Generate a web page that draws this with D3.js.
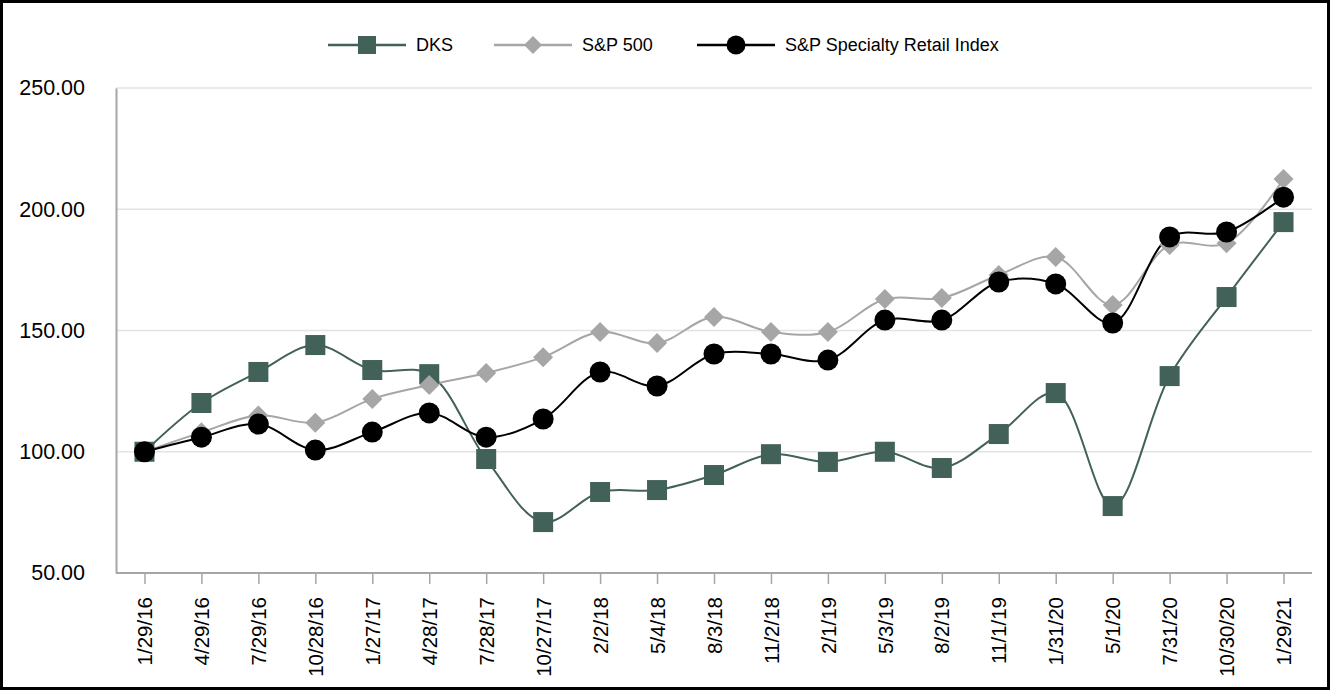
<!DOCTYPE html>
<html>
<head>
<meta charset="utf-8">
<script src="https://cdn.jsdelivr.net/npm/d3@7"></script>
<style>
body{margin:0;background:#fff;}
svg{display:block;font-family:"Liberation Sans",Arial,sans-serif;}
</style>
</head>
<body>
<svg id="chart" width="1332" height="692"></svg>
<script>
var dates = ["1/29/16","4/29/16","7/29/16","10/28/16","1/27/17","4/28/17","7/28/17","10/27/17",
	"2/2/18","5/4/18","8/3/18","11/2/18","2/1/19","5/3/19","8/2/19","11/1/19",
	"1/31/20","5/1/20","7/31/20","10/30/20","1/29/21"];

var dks = [100,120.1,132.9,144,133.7,132,97,71,83.4,84.2,90.4,99,95.8,100,93.3,107.3,124.2,77.6,131.2,163.8,194.7];
var sp500 = [100,108,115,112,121.8,127.5,132.5,139,149.4,144.8,155.6,149.4,149.4,163,163.4,172.9,180.3,160.5,185.3,186,212.5];
var retail = [100,106,111.4,100.7,108.1,116,106,113.5,132.9,127.1,140.3,140.3,137.8,154.3,154.3,170,169.2,153.1,188.6,190.6,205];

var yTicks = [50,100,150,200,250];

var svg = d3.select('#chart');

var plotLeft = 116, plotRight = 1312, plotTop = 88, plotBottom = 573;

var x = d3.scalePoint().domain(dates).range([plotLeft,plotRight]).padding(0.5);
var y = d3.scaleLinear().domain([50,250]).range([plotBottom,plotTop]);

// frame
svg.append("rect")
	.attr("x",1.5).attr("y",1.5)
	.attr("width",1327).attr("height",687)
	.attr("fill","none").attr("stroke","#000").attr("stroke-width",3);

// gridlines
svg.append("g").selectAll("line")
	.data(yTicks.slice(1))
	.enter().append("line")
	.attr("x1",plotLeft).attr("x2",plotRight)
	.attr("y1",function(d){return y(d);})
	.attr("y2",function(d){return y(d);})
	.attr("stroke","#e3e3e3").attr("stroke-width",1.5);

// y axis
var yAxis = svg.append("g")
	.attr("transform","translate(" + plotLeft + ",0)")
	.call(d3.axisLeft(y).tickValues(yTicks).tickSize(0).tickPadding(31).tickFormat(d3.format(".2f")));
yAxis.select(".domain").attr("stroke","#a6a6a6").attr("stroke-width",2);
yAxis.selectAll("text").attr("font-size",21.5).attr("fill","#000").attr("font-family","Liberation Sans, Arial, sans-serif");

// x axis
var xAxis = svg.append("g")
	.attr("transform","translate(0," + plotBottom + ")")
	.call(d3.axisBottom(x).tickSize(11).tickSizeOuter(0));
xAxis.select(".domain").attr("stroke","#a6a6a6").attr("stroke-width",2)
	.attr("d","M" + plotLeft + ",0H" + plotRight);
xAxis.selectAll(".tick line").attr("stroke","#a6a6a6").attr("stroke-width",1.5);
xAxis.selectAll("text")
	.attr("font-size",20.5).attr("fill","#000").attr("font-family","Liberation Sans, Arial, sans-serif")
	.attr("transform","rotate(-90)")
	.attr("text-anchor","end")
	.attr("x",-24).attr("y",0).attr("dy","0.35em");

var curve = d3.curveCatmullRom.alpha(0.5);

var series = [
	{name:"DKS", values:dks, color:"#426158", shape:"square"},
	{name:"S&P 500", values:sp500, color:"#a6a6a6", shape:"diamond"},
	{name:"S&P Specialty Retail Index", values:retail, color:"#000000", shape:"circle"}
];

var drawMarker = function(g, shape, color, r){
	if(shape == "square"){
		g.append("rect").attr("x",-r).attr("y",-r).attr("width",2*r).attr("height",2*r).attr("fill",color);
	}
	else if(shape == "diamond"){
		g.append("path").attr("d","M0,-" + r + "L" + r + ",0L0," + r + "L-" + r + ",0Z").attr("fill",color);
	}
	else{
		g.append("circle").attr("r",r + 0.5).attr("fill",color);
	}
};

series.forEach(function(s){
	var line = d3.line()
		.x(function(d,i){return x(dates[i]);})
		.y(function(d){return y(d);})
		.curve(curve);
	svg.append("path")
		.datum(s.values)
		.attr("d",line)
		.attr("fill","none")
		.attr("stroke",s.color)
		.attr("stroke-width",2);
});

series.forEach(function(s){
	svg.append("g").selectAll("g")
		.data(s.values)
		.enter().append("g")
		.attr("transform",function(d,i){return "translate(" + x(dates[i]) + "," + y(d) + ")";})
		.each(function(){drawMarker(d3.select(this), s.shape, s.color, 10);});
});

// legend
var legendX = [328, 494, 697];
series.forEach(function(s,i){
	var g = svg.append("g").attr("transform","translate(" + legendX[i] + ",45)");
	g.append("line").attr("x1",0).attr("x2",78).attr("y1",0).attr("y2",0)
		.attr("stroke",s.color).attr("stroke-width",2.5);
	var m = g.append("g").attr("transform","translate(39,0)");
	drawMarker(m, s.shape, s.color, 9);
	g.append("text").attr("x",88).attr("y",0).attr("dy","0.35em")
		.attr("font-size",18).attr("fill","#000").text(s.name);
});
</script>
</body>
</html>
